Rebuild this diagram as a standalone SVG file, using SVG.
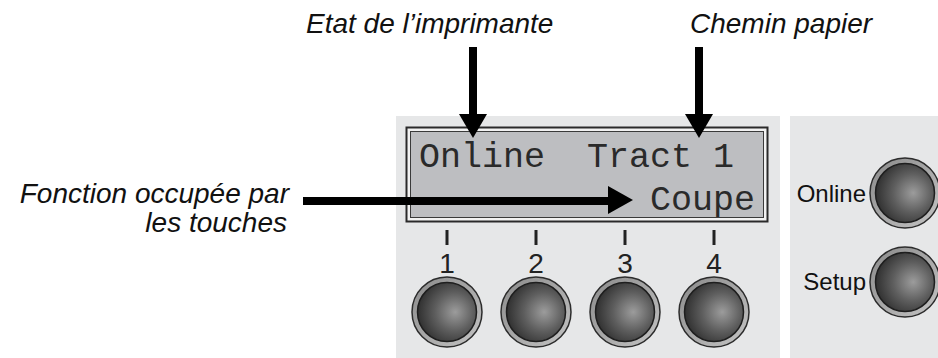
<svg xmlns="http://www.w3.org/2000/svg" xmlns:xlink="http://www.w3.org/1999/xlink" width="938" height="358" viewBox="0 0 938 358">
  <style>
    .lbl { font-family: "Liberation Sans", Arial, sans-serif; font-style: italic; font-size: 28px; fill: #111; }
    .key { font-family: "Liberation Sans", Arial, sans-serif; font-size: 28px; fill: #222; text-anchor: middle; }
    .side { font-family: "Liberation Sans", Arial, sans-serif; font-size: 24px; fill: #111; text-anchor: end; }
    .lcd { font-family: "Liberation Mono", "Courier New", monospace; font-size: 35px; fill: #2a2a2a; }
    .panel { fill: #e6e7e8; }
    .arrow { fill: #000; }
    .tick { fill: #222; }
  </style>
  <defs>
    <radialGradient id="capGrad" cx="0.62" cy="0.5" r="0.6" fx="0.64" fy="0.5">
      <stop offset="0" stop-color="#9c9c9c"/>
      <stop offset="0.55" stop-color="#5e5e5e"/>
      <stop offset="1" stop-color="#333"/>
    </radialGradient>
    <linearGradient id="ringGrad" x1="0" y1="0" x2="1" y2="1">
      <stop offset="0" stop-color="#8a8a8a"/>
      <stop offset="1" stop-color="#c4c4c4"/>
    </linearGradient>
    <g id="btn">
      <circle r="35" fill="url(#ringGrad)" stroke="#2c2c2c" stroke-width="1.5"/>
      <circle r="29.5" fill="url(#capGrad)" stroke="#1e1e1e" stroke-width="1.5"/>
    </g>
  </defs>

  <rect width="938" height="358" fill="#fff"/>

  <g id="panel-left">
    <rect class="panel" x="396" y="116" width="384" height="242"/>
  </g>
  <g id="panel-right">
    <rect class="panel" x="790" y="116" width="148" height="242"/>
  </g>

  <g id="display">
    <rect x="406.5" y="127.5" width="361" height="94" fill="#f2f2f2" stroke="#2a2a2a" stroke-width="2"/>
    <rect x="410.5" y="131.5" width="353" height="86" fill="#bdbec1" stroke="#3a3a3a" stroke-width="1"/>
    <text class="lcd" x="419" y="167" xml:space="preserve">Online  Tract 1</text>
    <text class="lcd" x="650" y="210">Coupe</text>
  </g>

  <g id="key1">
    <rect class="tick" x="445.5" y="230" width="3" height="15"/>
    <text class="key" x="447" y="273">1</text>
    <use xlink:href="#btn" x="447" y="312"/>
  </g>
  <g id="key2">
    <rect class="tick" x="534.5" y="230" width="3" height="15"/>
    <text class="key" x="536" y="273">2</text>
    <use xlink:href="#btn" x="536" y="312"/>
  </g>
  <g id="key3">
    <rect class="tick" x="623.5" y="230" width="3" height="15"/>
    <text class="key" x="625" y="273">3</text>
    <use xlink:href="#btn" x="625" y="312"/>
  </g>
  <g id="key4">
    <rect class="tick" x="712.5" y="230" width="3" height="15"/>
    <text class="key" x="714" y="273">4</text>
    <use xlink:href="#btn" x="714" y="312"/>
  </g>

  <g id="key-online">
    <text class="side" x="866" y="202">Online</text>
    <use xlink:href="#btn" x="905" y="193"/>
  </g>
  <g id="key-setup">
    <text class="side" x="866" y="290">Setup</text>
    <use xlink:href="#btn" x="905" y="282"/>
  </g>

  <g id="label-etat">
    <text class="lbl" x="306" y="33">Etat de l’imprimante</text>
  </g>
  <g id="label-chemin">
    <text class="lbl" x="690" y="33">Chemin papier</text>
  </g>
  <g id="label-fonction">
    <text class="lbl" x="289" y="203" text-anchor="end">Fonction occupée par</text>
    <text class="lbl" x="287" y="232" text-anchor="end">les touches</text>
  </g>

  <g id="connectors">
    <rect class="arrow" x="469" y="47" width="8" height="68"/>
    <polygon class="arrow" points="459,114 487,114 473,138"/>
    <rect class="arrow" x="695" y="47" width="8" height="68"/>
    <polygon class="arrow" points="685,114 713,114 699,138"/>
    <rect class="arrow" x="303" y="197" width="306" height="8"/>
    <polygon class="arrow" points="608,186 608,214 633,200"/>
  </g>
</svg>
